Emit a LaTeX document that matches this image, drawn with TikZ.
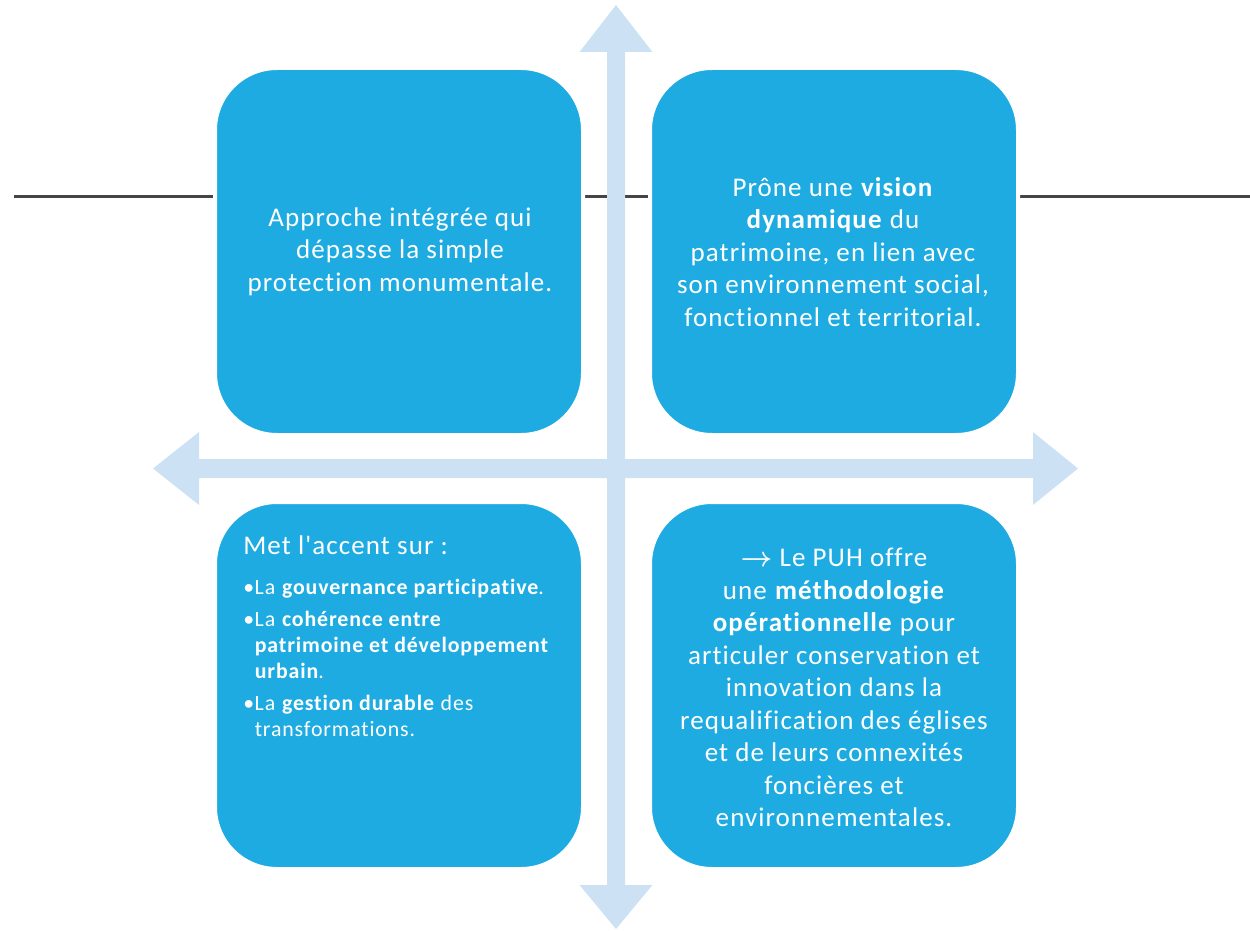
\documentclass[tikz,border=0pt]{standalone}
\usepackage{amsmath}
\usepackage{fontspec}
\setmainfont{Carlito}[LetterSpace=4, Ligatures={NoCommon,TeXOff}]
\definecolor{boxblue}{HTML}{1EABE2}
\definecolor{arrowblue}{HTML}{CCE2F4}
\definecolor{linegray}{HTML}{454545}
\newdimen\pxu \pxu=0.75pt
\tikzset{
  quadbox/.style={rectangle, rounded corners=46.5pt, minimum width=276pt, minimum height=275.25pt,
    fill=boxblue, draw=white, line width=3pt, inner sep=0pt},
  maintext/.style={text=white, align=center, inner sep=0pt,
    font=\fontsize{20.25pt}{24.4pt}\selectfont},
  listtext/.style={text=white, align=left, inner sep=0pt,
    font=\fontsize{16.4pt}{19.5pt}\selectfont},
  bigarrow/.style={fill=arrowblue, draw=none},
  axisline/.style={draw=linegray, line width=1.9pt}
}
\begin{document}
\begin{tikzpicture}[x=0.75pt,y=-0.75pt]
\useasboundingbox (0,0) rectangle (1250,931);
% gray horizontal line
\coordinate (lineL) at (14,196.5);
\coordinate (lineR) at (1250,196.5);
\draw[axisline] (lineL) -- (lineR);
% vertical double arrow
\fill[bigarrow] (616,5) -- (652.5,52) -- (625,52) -- (625,885) -- (652.5,885) -- (616,929)
  -- (579.5,885) -- (607,885) -- (607,52) -- (579.5,52) -- cycle;
% horizontal double arrow
\fill[bigarrow] (153,468.5) -- (199,432) -- (199,459) -- (1033,459) -- (1033,432) -- (1078,468.5)
  -- (1033,505) -- (1033,478) -- (199,478) -- (199,505) -- cycle;
% boxes
\node[quadbox] (tl) at (399,251.5) {};
\node[quadbox] (tr) at (834,251.5) {};
\node[quadbox] (bl) at (399,685.5) {};
\node[quadbox] (br) at (834,685.5) {};
% texts
\node[maintext] (tltext) at (400,251.5) {Approche intégrée qui\\dépasse la simple\\protection monumentale.};
\node[maintext] (trtext) at (833,252) {Prône une \textbf{vision}\\\textbf{dynamique} du\\patrimoine, en lien avec\\son environnement social,\\fonctionnel et territorial.};
\node[maintext] (brtext) at (834,687.5) {$\boldsymbol{\rightarrow}$ Le PUH offre\\une \textbf{méthodologie}\\\textbf{opérationnelle} pour\\articuler conservation et\\innovation dans la\\requalification des églises\\et de leurs connexités\\foncières et\\environnementales.};
\node[maintext, anchor=west, align=left] (bltitle) at (243,545) {Met l'accent sur :};
\node[listtext, anchor=north west] (bllist) at (243,579) {%
\makebox[11.5\pxu][l]{•}La \textbf{gouvernance participative}.\\[6\pxu]
\makebox[11.5\pxu][l]{•}La \textbf{cohérence entre}\\
\hspace*{11.5\pxu}\textbf{patrimoine et développement}\\
\hspace*{11.5\pxu}\textbf{urbain}.\\[6\pxu]
\makebox[11.5\pxu][l]{•}La \textbf{gestion durable} des\\
\hspace*{11.5\pxu}transformations.};
\end{tikzpicture}
\end{document}
